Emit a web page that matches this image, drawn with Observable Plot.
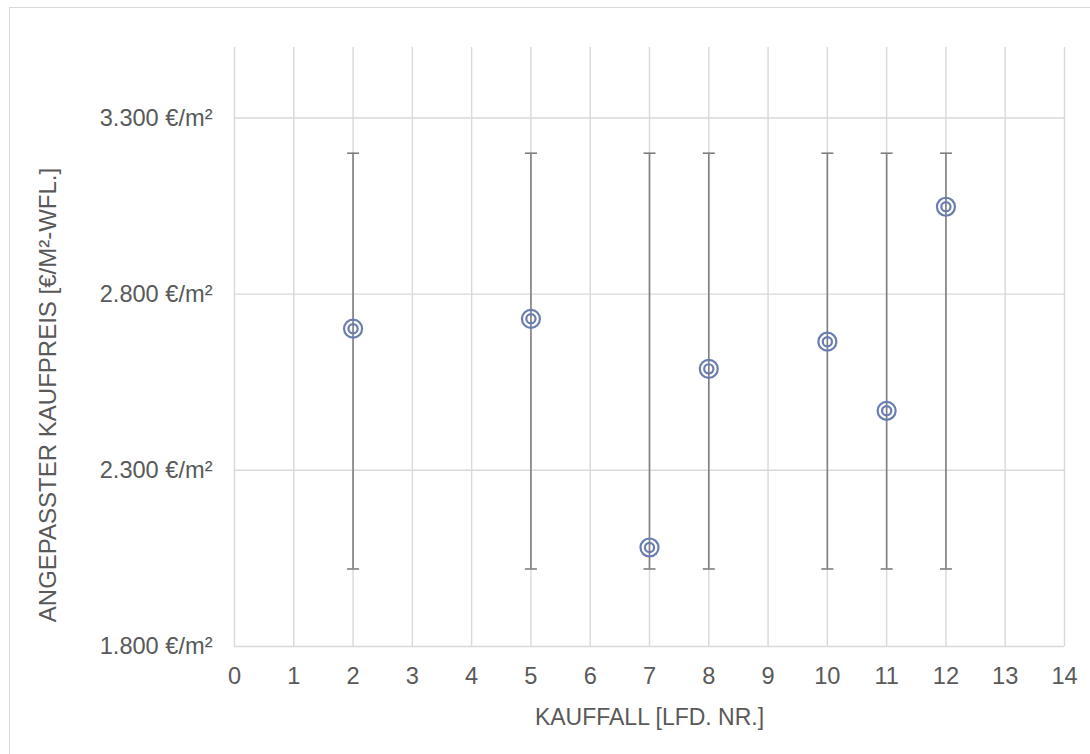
<!DOCTYPE html>
<html>
<head>
<meta charset="utf-8">
<script src="https://cdn.jsdelivr.net/npm/d3@7"></script>
<script src="https://cdn.jsdelivr.net/npm/@observablehq/plot@0.6"></script>
<style>
  html, body { margin: 0; padding: 0; background: #fff; overflow: hidden; }
  #wrap { position: relative; width: 1090px; height: 754px; }
  #border { position: absolute; left: 9px; top: 7px; width: 1100px; height: 760px;
            border-left: 1.5px solid #d9d9d9; border-top: 1.5px solid #d9d9d9; }
  #chart { position: absolute; left: 0; top: 0; }
</style>
</head>
<body>
<div id="wrap"><div id="border"></div><div id="chart"></div></div>
<script>
// Data
const kauffall = [2, 5, 7, 8, 10, 11, 12];
const preis = [2702, 2730, 2081, 2588, 2665, 2469, 3048];
const spanneUnten = [2020, 2020, 2020, 2020, 2020, 2020, 2020];
const spanneOben = [3200, 3200, 3200, 3200, 3200, 3200, 3200];
const xTicks = [0, 1, 2, 3, 4, 5, 6, 7, 8, 9, 10, 11, 12, 13, 14];
const yTicks = [1800, 2300, 2800, 3300];
const xTitle = "KAUFFALL [LFD. NR.]";
const yTitle = "ANGEPASSTER KAUFPREIS [€/M²-WFL.]";

const rows = kauffall.map((k, i) => ({k, p: preis[i], lo: spanneUnten[i], hi: spanneOben[i]}));

const capSymbol = {
  draw(context, size) {
    const w = Math.sqrt(size / Math.PI);
    context.moveTo(-w, 0);
    context.lineTo(w, 0);
  }
};

const fmt = d => d3.format(",")(d).replace(/,/g, ".") + " €/m²";
const textColor = "#595959";
const gridColor = "#d9d9d9";
const barColor = "#7f7f7f";
const markerColor = "#6a7db0";

const chart = Plot.plot({
  width: 1090,
  height: 754,
  marginLeft: 234,
  marginRight: 26,
  marginTop: 47,
  marginBottom: 108,
  style: { fontFamily: "'Liberation Sans', Arial, sans-serif", fontSize: "23.6px", color: textColor, background: "transparent" },
  x: { domain: [0, 14] },
  y: { domain: [1800, 3500] },
  marks: [
    Plot.gridX(xTicks, { stroke: gridColor, strokeOpacity: 1, strokeWidth: 1.4 }),
    Plot.gridY(yTicks, { stroke: gridColor, strokeOpacity: 1, strokeWidth: 1.4 }),
    Plot.axisX({ ticks: xTicks, tickSize: 0, tickPadding: 21, label: null, fill: textColor }),
    Plot.axisY({ ticks: yTicks, tickSize: 0, tickPadding: 22, label: null, tickFormat: fmt, fill: textColor }),
    Plot.ruleX(rows, { x: "k", y1: "lo", y2: "hi", stroke: barColor, strokeWidth: 1.6 }),
    Plot.dot(rows, { x: "k", y: "lo", symbol: capSymbol, r: 6, stroke: barColor, strokeWidth: 1.6 }),
    Plot.dot(rows, { x: "k", y: "hi", symbol: capSymbol, r: 6, stroke: barColor, strokeWidth: 1.6 }),
    Plot.dot(rows, { x: "k", y: "p", r: 9, stroke: markerColor, strokeWidth: 2.2, fill: "none" }),
    Plot.dot(rows, { x: "k", y: "p", r: 4.6, stroke: markerColor, strokeWidth: 2.2, fill: "none" }),
    Plot.text([xTitle], { text: d => d, frameAnchor: "bottom", textAnchor: "middle", lineAnchor: "middle", dy: 71, fontSize: 23, fill: textColor }),
    Plot.text([yTitle], { text: d => d, frameAnchor: "left", textAnchor: "middle", lineAnchor: "middle", rotate: -90, dx: -186, dy: 48, fontSize: 24, fill: textColor })
  ]
});
document.getElementById("chart").appendChild(chart);
</script>
</body>
</html>
